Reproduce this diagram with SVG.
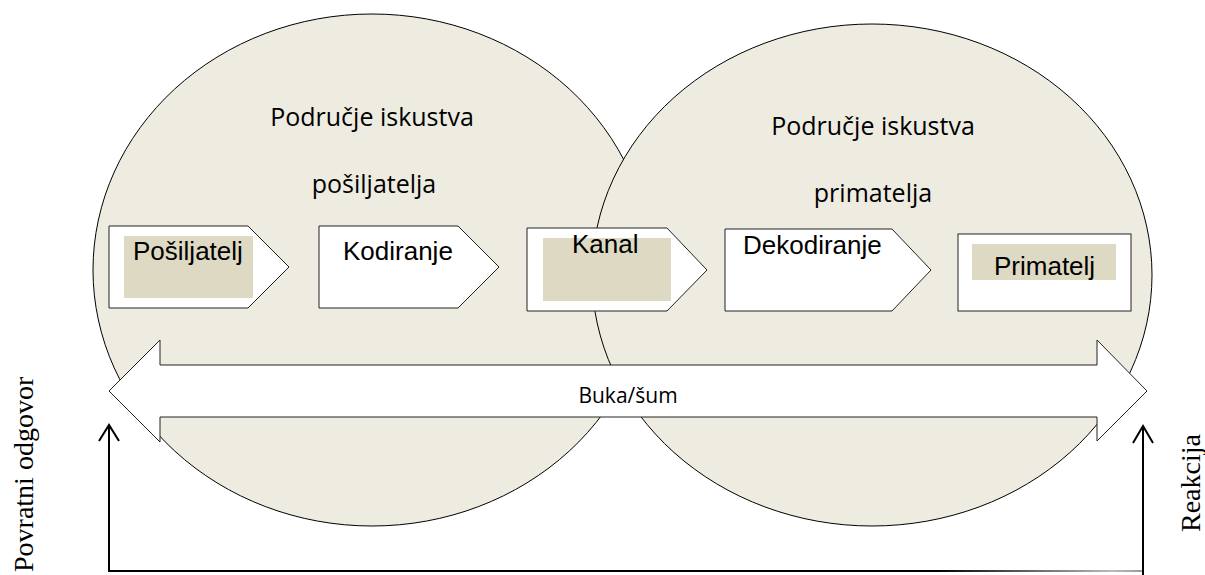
<svg xmlns="http://www.w3.org/2000/svg" width="1205" height="575" viewBox="0 0 1205 575">
<defs>
<linearGradient id="fade" gradientUnits="userSpaceOnUse" x1="109" y1="0" x2="1143" y2="0">
<stop offset="0" stop-color="#000"/>
<stop offset="0.8" stop-color="#000"/>
<stop offset="0.97" stop-color="#bbb"/>
<stop offset="1" stop-color="#999"/>
</linearGradient>
</defs>
<style>
.zone{fill:#EEECE1;stroke:#000;stroke-width:1}
.box{fill:#fff;stroke:#222;stroke-width:1}
.tan{fill:#DDD9C3}
.lbl{font-family:"Liberation Sans",Arial,sans-serif;font-size:26px;fill:#000}
.cap{font-family:"Open Sans","Noto Sans",sans-serif;font-size:25px;fill:#000;text-anchor:middle}
.side{font-family:"Liberation Serif","Times New Roman",serif;font-size:28px;fill:#000}
.fb{fill:none;stroke:#000;stroke-width:2}
</style>
<rect width="1205" height="575" fill="#fff"/>
<g id="zone-sender">
<ellipse class="zone" cx="372" cy="270" rx="279" ry="256"/>
<text class="cap" x="372" y="126">Područje iskustva</text>
<text class="cap" x="374" y="193">pošiljatelja</text>
</g>
<g id="zone-receiver">
<ellipse class="zone" cx="872" cy="275" rx="280" ry="251"/>
<text class="cap" x="873" y="135">Područje iskustva</text>
<text class="cap" x="873" y="202">primatelja</text>
</g>
<g id="node-posiljatelj">
<polygon class="box" points="109,226 248,226 289,267 248,308 109,308"/>
<rect class="tan" x="124" y="236" width="129" height="62"/>
<text class="lbl" x="133" y="260">Pošiljatelj</text>
</g>
<g id="node-kodiranje">
<polygon class="box" points="319,226 458,226 499,267 458,308 319,308"/>
<text class="lbl" x="343" y="260">Kodiranje</text>
</g>
<g id="node-kanal">
<polygon class="box" points="527,228 667,228 707,270 667,311 527,311"/>
<rect class="tan" x="543" y="238" width="128" height="63"/>
<text class="lbl" x="572" y="253">Kanal</text>
</g>
<g id="node-dekodiranje">
<polygon class="box" points="725,229 892,229 931,270 892,311 725,311"/>
<text class="lbl" x="743" y="254">Dekodiranje</text>
</g>
<g id="node-primatelj">
<rect class="box" x="958" y="234" width="173" height="77"/>
<rect class="tan" x="972" y="244" width="144" height="36"/>
<text class="lbl" x="994" y="275">Primatelj</text>
</g>
<g id="node-buka">
<polygon class="box" points="109,391 160,340 160,365 1097,365 1097,340 1147,391 1097,441 1097,417 160,417 160,442"/>
<text class="cap" x="628" y="403" style="font-size:21px">Buka/šum</text>
</g>
<g id="connectors">
<line class="fb" x1="109" y1="571" x2="109" y2="425"/>
<line class="fb" x1="108" y1="571" x2="1143" y2="571" style="stroke:url(#fade)"/>
<line class="fb" x1="1143" y1="575" x2="1143" y2="426"/>
<polyline class="fb" points="99,441 109,425 119,441"/>
<polyline class="fb" points="1133,443 1143,426 1153,443"/>
</g>
<g id="labels-side">
<text class="side" transform="translate(33,572) rotate(-90)">Povratni odgovor</text>
<text class="side" transform="translate(1200,532) rotate(-90)">Reakcija</text>
</g>
</svg>
